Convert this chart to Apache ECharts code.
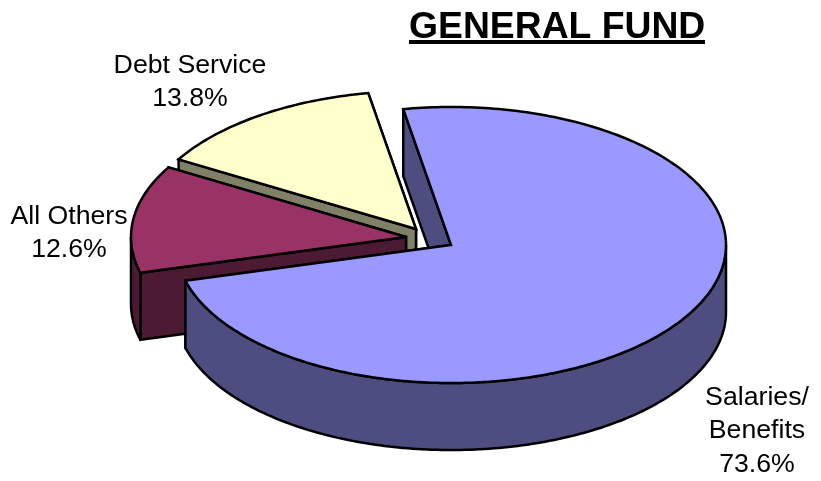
<!DOCTYPE html>
<html>
<head>
<meta charset="utf-8">
<style>html,body{margin:0;padding:0;background:#fff}#chart{width:821px;height:481px}</style>
<script src="https://cdn.jsdelivr.net/npm/echarts@6/dist/echarts.min.js"></script>
</head>
<body>
<div id="chart"></div>
<script>
// Budget shares, listed back to front so later slices paint over earlier ones.
var categories = ['Debt Service', 'All Others', 'Salaries/\nBenefits'];
var shares = [13.8, 12.6, 73.6];
var chartTitle = 'GENERAL FUND';

// Slice appearance and placement of each exploded slice.
var topColors = ['#FFFFCC', '#993366', '#9999FF'];
var wallColors = ['#808066', '#4D1A33', '#4D4D80'];
var apexes = [[416, 229], [406, 237], [451, 245]];
var labelCentres = [[190, 82], [69, 233], [757, 431]];

var RX = 275, RY = 138, DEPTH = 67;
var END_ANGLE = 350; // clockwise from 12 o'clock, where the first slice ends

function rim(apex, deg, drop) {
  var r = deg * Math.PI / 180;
  return [apex[0] + RX * Math.sin(r), apex[1] - RY * Math.cos(r) + (drop || 0)];
}

function arc(apex, from, to, drop) {
  var pts = [];
  var n = Math.max(2, Math.ceil(Math.abs(to - from)));
  for (var i = 0; i <= n; i++) pts.push(rim(apex, from + (to - from) * i / n, drop));
  return pts;
}

function poly(points, fill) {
  return {
    type: 'polygon',
    shape: { points: points },
    style: { fill: fill, stroke: '#000', lineWidth: 2.5, lineJoin: 'miter', miterLimit: 2.5 }
  };
}

function renderSlice(params, api) {
  var i = params.dataIndex;
  var value = api.value(0);
  var before = 0;
  for (var k = 0; k < i; k++) before += shares[k];
  var end = END_ANGLE - before * 3.6;
  var start = end - value * 3.6;
  var apex = apexes[i];
  var kids = [];

  // Cut faces, the one further back first.
  var faces = [start, end].sort(function (a, b) { return rim(apex, a)[1] - rim(apex, b)[1]; });
  faces.forEach(function (a) {
    var p = rim(apex, a);
    kids.push(poly([p, apex, [apex[0], apex[1] + DEPTH], [p[0], p[1] + DEPTH]], wallColors[i]));
  });

  // Outer wall, only where the rim faces the viewer.
  var a0 = Math.max(start, 90), a1 = Math.min(end, 270);
  if (a1 > a0) {
    kids.push(poly(arc(apex, a0, a1, 0).concat(arc(apex, a1, a0, DEPTH)), wallColors[i]));
  }

  // Top surface.
  kids.push(poly([apex].concat(arc(apex, start, end, 0)), topColors[i]));

  // Label.
  kids.push({
    type: 'text',
    z2: 10,
    style: {
      text: categories[i] + '\n' + value.toFixed(1) + '%',
      x: labelCentres[i][0],
      y: labelCentres[i][1],
      align: 'center',
      verticalAlign: 'middle',
      fontFamily: '"Liberation Sans", Arial, sans-serif',
      fontSize: 26.7,
      lineHeight: 33.5,
      fill: '#000'
    }
  });
  return { type: 'group', children: kids };
}

var chart = echarts.init(document.getElementById('chart'), null, { renderer: 'canvas' });
chart.setOption({
  animation: false,
  backgroundColor: '#fff',
  title: {
    text: chartTitle,
    left: 409,
    top: 9,
    padding: 0,
    textStyle: {
      fontFamily: '"Liberation Sans", Arial, sans-serif',
      fontSize: 37.3,
      fontWeight: 'bold',
      color: '#000'
    }
  },
  graphic: [{
    type: 'rect',
    shape: { x: 409, y: 40, width: 296, height: 4 },
    style: { fill: '#000' }
  }],
  xAxis: { show: false },
  yAxis: { show: false },
  series: [{
    type: 'custom',
    coordinateSystem: 'none',
    renderItem: renderSlice,
    data: shares.map(function (v) { return [v]; })
  }]
});
</script>
</body>
</html>
